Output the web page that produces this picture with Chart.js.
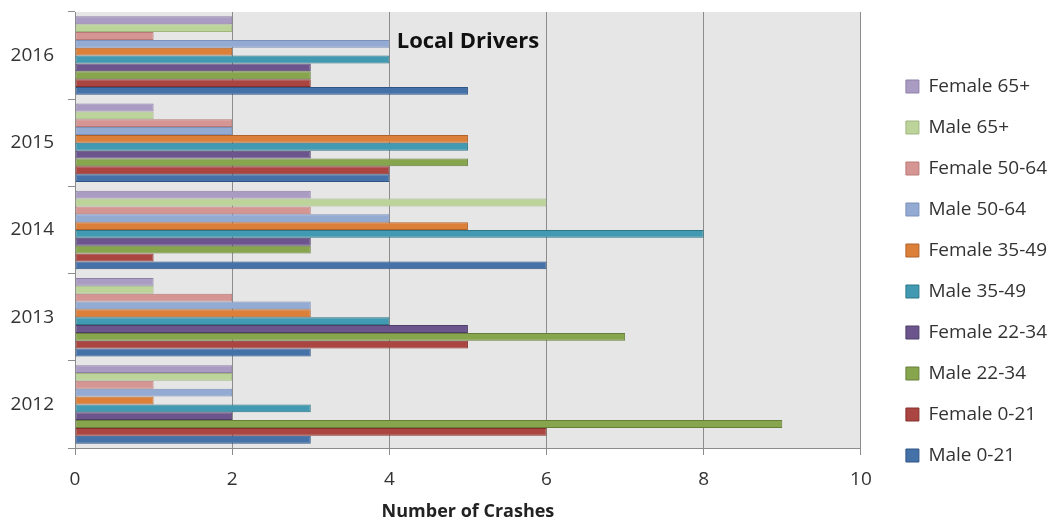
<!DOCTYPE html>
<html>
<head>
<meta charset="utf-8">
<script src="https://cdn.jsdelivr.net/npm/chart.js@4.4.1/dist/chart.umd.min.js"></script>
<style>
  html, body { margin: 0; padding: 0; background: #fff; }
  #wrap { width: 1052px; height: 524px; position: relative; }
</style>
</head>
<body>
<div id="wrap"><canvas id="myChart"></canvas></div>
<script>
// categories, bottom to top like the original
const years = ['2012', '2013', '2014', '2015', '2016'];
const xTicks = [0, 2, 4, 6, 8, 10];

// crashes per group, one value per year (2012..2016)
const male0_21     = [3, 3, 6, 4, 5];
const female0_21   = [6, 5, 1, 4, 3];
const male22_34    = [9, 7, 3, 5, 3];
const female22_34  = [2, 5, 3, 3, 3];
const male35_49    = [3, 4, 8, 5, 4];
const female35_49  = [1, 3, 5, 5, 2];
const male50_64    = [2, 3, 4, 2, 4];
const female50_64  = [1, 2, 3, 2, 1];
const male65       = [2, 1, 6, 1, 2];
const female65     = [2, 1, 3, 1, 2];

const FONT = '"Open Sans", Lato, sans-serif';

function ds(label, data, fill, line) {
    return {
        label: label,
        data: data,
        backgroundColor: fill,
        borderColor: line,
        borderWidth: 1,
        borderSkipped: false
    };
}

// listed top-to-bottom, so the first one sits highest in each year and in the legend
const data = {
    labels: years,
    datasets: [
        ds('Female 65+', female65, '#AA9BC3', '#8f80a8'),
        ds('Male 65+', male65, '#BCD39A', '#9fb67f'),
        ds('Female 50-64', female50_64, '#D59593', '#b87a78'),
        ds('Male 50-64', male50_64, '#93AAD3', '#7a91ba'),
        ds('Female 35-49', female35_49, '#DB7F39', '#b0622a'),
        ds('Male 35-49', male35_49, '#419AB1', '#2e7688'),
        ds('Female 22-34', female22_34, '#6C558C', '#4f3e69'),
        ds('Male 22-34', male22_34, '#86A54C', '#687f3a'),
        ds('Female 0-21', female0_21, '#AA4541', '#86302d'),
        ds('Male 0-21', male0_21, '#4471A7', '#2f5585')
    ]
};

// grey plot background + the title drawn inside the plot
const plotDecor = {
    id: 'plotDecor',
    afterLayout(chart) {
        // leave a wider gap between the plot and the legend, like the original
        if (chart.legend) {
            chart.legend.left += 23;
            chart.legend.right += 23;
            chart.legend.top += 3;
            chart.legend.bottom += 3;
        }
    },
    beforeDraw(chart) {
        const a = chart.chartArea, ctx = chart.ctx;
        ctx.save();
        ctx.fillStyle = '#E6E6E6';
        ctx.fillRect(a.left, a.top, a.right - a.left, a.bottom - a.top);
        ctx.restore();
    },
    afterDatasetsDraw(chart) {
        const a = chart.chartArea, ctx = chart.ctx;
        const x = chart.scales.x.getPixelForValue(5);
        ctx.save();
        ctx.font = 'bold 22px ' + FONT;
        ctx.fillStyle = '#111';
        ctx.textAlign = 'center';
        ctx.textBaseline = 'middle';
        ctx.fillText('Local Drivers', x, a.top + 30);
        ctx.restore();
    }
};

new Chart(document.getElementById('myChart'), {
    type: 'bar',
    data: data,
    plugins: [plotDecor],
    options: {
        indexAxis: 'y',
        responsive: true,
        maintainAspectRatio: false,
        animation: false,
        layout: { padding: { top: 12, left: 0, right: 18, bottom: 0 } },
        datasets: { bar: { categoryPercentage: 0.9, barPercentage: 1 } },
        scales: {
            x: {
                min: 0,
                max: 10,
                afterBuildTicks(scale) {
                    scale.ticks = xTicks.map(v => ({ value: v }));
                },
                grid: { color: '#8c8c8c', lineWidth: 1, tickLength: 7, drawTicks: true },
                border: { display: true, color: '#8c8c8c' },
                ticks: { font: { family: FONT, size: 19 }, color: '#333', padding: 13 },
                title: {
                    display: true,
                    text: 'Number of Crashes',
                    font: { family: FONT, size: 18, weight: 'bold' },
                    color: '#222',
                    padding: { top: 4, bottom: 1 }
                },
                afterFit(scale) {
                    scale.height = 76;
                    scale.paddingLeft = 0;
                    scale.paddingRight = 0;
                }
            },
            y: {
                reverse: true,
                grid: { drawOnChartArea: false, color: '#8c8c8c', tickLength: 7 },
                border: { display: true, color: '#8c8c8c' },
                ticks: { font: { family: FONT, size: 19 }, color: '#333', padding: 14 },
                afterFit(scale) {
                    scale.width = 75;
                    scale.paddingTop = 0;
                    scale.paddingBottom = 0;
                }
            }
        },
        plugins: {
            legend: {
                position: 'right',
                labels: {
                    font: { family: FONT, size: 19 },
                    color: '#333',
                    boxWidth: 13,
                    boxHeight: 13,
                    padding: 22
                }
            },
            tooltip: { enabled: false }
        }
    }
});
</script>
</body>
</html>
